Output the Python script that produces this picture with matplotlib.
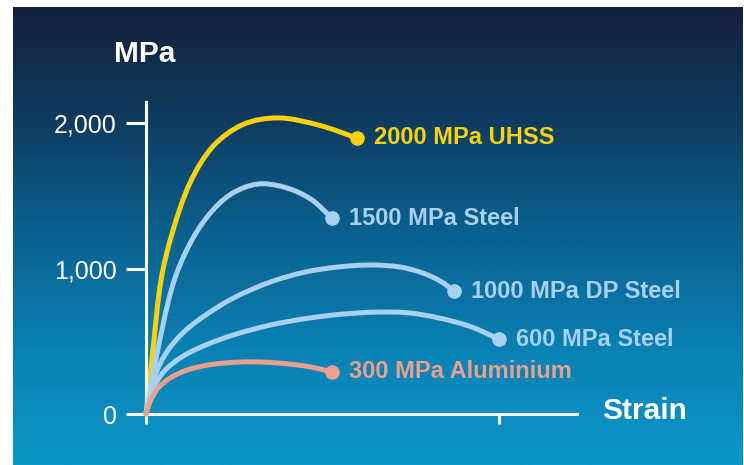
import numpy as np
import matplotlib
matplotlib.use("Agg")
import matplotlib.pyplot as plt
from matplotlib.colors import LinearSegmentedColormap
from matplotlib.path import Path
from matplotlib.patches import PathPatch

plt.rcParams["font.family"] = ["Liberation Sans", "DejaVu Sans"]

# stress-strain curves (strain in %, stress in MPa)
uhss_strain = [0, 0.4, 0.85, 1.5, 2.5, 3.8, 5.5, 7.5, 9.8, 11.95]
uhss_mpa = [0, 450, 920, 1250, 1590, 1840, 1990, 2035, 1985, 1897]

s1500_strain = [0, 0.6, 1.5, 2.4, 3.5, 4.8, 6.3, 7.8, 9.3, 10.54]
s1500_mpa = [0, 400, 880, 1150, 1360, 1510, 1580, 1560, 1480, 1347]

dp1000_strain = [0, 0.5, 1.2, 2.2, 3.5, 5.0, 7.0, 9.0, 11.0, 12.8, 14.4, 15.7, 16.7, 17.45]
dp1000_mpa = [0, 260, 430, 570, 690, 800, 905, 975, 1012, 1024, 1010, 968, 912, 845]

s600_strain = [0, 0.4, 1.0, 2.0, 3.3, 5.0, 7.0, 9.0, 11.0, 13.0, 14.8, 16.6, 18.4, 20.0]
s600_mpa = [0, 170, 290, 390, 470, 545, 610, 655, 685, 700, 696, 660, 600, 515]

al300_strain = [0, 0.25, 0.7, 1.4, 2.4, 3.7, 5.3, 6.6, 8.0, 9.3, 10.54]
al300_mpa = [0, 90, 180, 250, 305, 340, 357, 357, 345, 324, 289]

labels = ["2000 MPa UHSS", "1500 MPa Steel", "1000 MPa DP Steel", "600 MPa Steel", "300 MPa Aluminium"]
yticks = [0, 1000, 2000]
ytick_labels = ["0", "1,000", "2,000"]
xticks = [0, 20]

YELLOW = "#FAD20A"
LBLUE = "#A8D1F0"
SALMON = "#E8A28C"

px_x = 17.65   # pixels per % strain
px_y = 0.1455  # pixels per MPa


def smooth_path(x, y):
    # bezier path through the read points (chord-length catmull-rom)
    p = np.column_stack([x, y]).astype(float)
    d = np.hypot(np.diff(p[:, 0]) * px_x, np.diff(p[:, 1]) * px_y)
    t = np.concatenate([[0], np.cumsum(d)])
    n = len(p)
    tan = np.zeros_like(p)
    tan[0] = (p[1] - p[0]) / (t[1] - t[0])
    tan[-1] = (p[-1] - p[-2]) / (t[-1] - t[-2])
    for i in range(1, n - 1):
        tan[i] = (p[i + 1] - p[i - 1]) / (t[i + 1] - t[i - 1])
    verts = [p[0]]
    codes = [Path.MOVETO]
    for i in range(n - 1):
        h = (t[i + 1] - t[i]) / 3
        verts += [p[i] + tan[i] * h, p[i + 1] - tan[i + 1] * h, p[i + 1]]
        codes += [Path.CURVE4] * 3
    return Path(verts, codes)


fig = plt.figure(figsize=(7.44, 4.65), dpi=100)
fig.patch.set_facecolor("white")

# background gradient panel
bg = fig.add_axes([13 / 744, 0, 730 / 744, 458 / 465])
cmap = LinearSegmentedColormap.from_list(
    "bg", ["#15203A", "#0F3C60", "#0A6290", "#0A80B3", "#0C97C9"])
bg.imshow(np.linspace(0, 1, 256).reshape(-1, 1), aspect="auto", cmap=cmap)
bg.set_axis_off()

ax = fig.add_axes([0, 0, 1, 1])
ax.patch.set_alpha(0)
ax.set_xlim(-146 / px_x, (744 - 146) / px_x)
ax.set_ylim(-(465 - 414) / px_y, 414 / px_y)

for side in ["top", "right"]:
    ax.spines[side].set_visible(False)
ax.spines["left"].set_position(("data", 0))
ax.spines["bottom"].set_position(("data", 0))
ax.spines["left"].set_bounds(0, 2144)
ax.spines["bottom"].set_bounds(0, 24.4)
for side in ["left", "bottom"]:
    ax.spines[side].set_color("white")
    ax.spines[side].set_linewidth(2.2)

ax.set_yticks(yticks)
ax.set_yticklabels(ytick_labels)
ax.set_xticks(xticks)
ax.tick_params(axis="y", direction="out", length=14.4, width=2.2, color="white",
               pad=6.5, labelsize=18, labelcolor="white")
ax.tick_params(axis="x", direction="out", length=7.2, width=2.2, color="white",
               labelbottom=False)

curves = [
    (uhss_strain, uhss_mpa, YELLOW, 2),
    (s1500_strain, s1500_mpa, LBLUE, 3),
    (dp1000_strain, dp1000_mpa, LBLUE, 3),
    (s600_strain, s600_mpa, LBLUE, 3),
    (al300_strain, al300_mpa, SALMON, 4),
]

for (x, y, c, z), lab in zip(curves, labels):
    ax.add_patch(PathPatch(smooth_path(x, y), fill=False, edgecolor=c, lw=3.6,
                           capstyle="round", joinstyle="round", zorder=z))
    ax.plot(x[-1], y[-1], "o", ms=9.5, color=c, zorder=z)
    ax.annotate(lab, (x[-1], y[-1]), xytext=(12, 0), textcoords="offset points",
                ha="left", va="center", fontsize=17, fontweight="bold", color=c)

fig.text(114 / 744, 1 - 54 / 465, "MPa", ha="left", va="center",
         fontsize=21.5, fontweight="bold", color="white")
fig.text(602 / 744, 1 - 411 / 465, "Strain", ha="left", va="center",
         fontsize=21.5, fontweight="bold", color="white")

fig.savefig("out.png", dpi=100)
